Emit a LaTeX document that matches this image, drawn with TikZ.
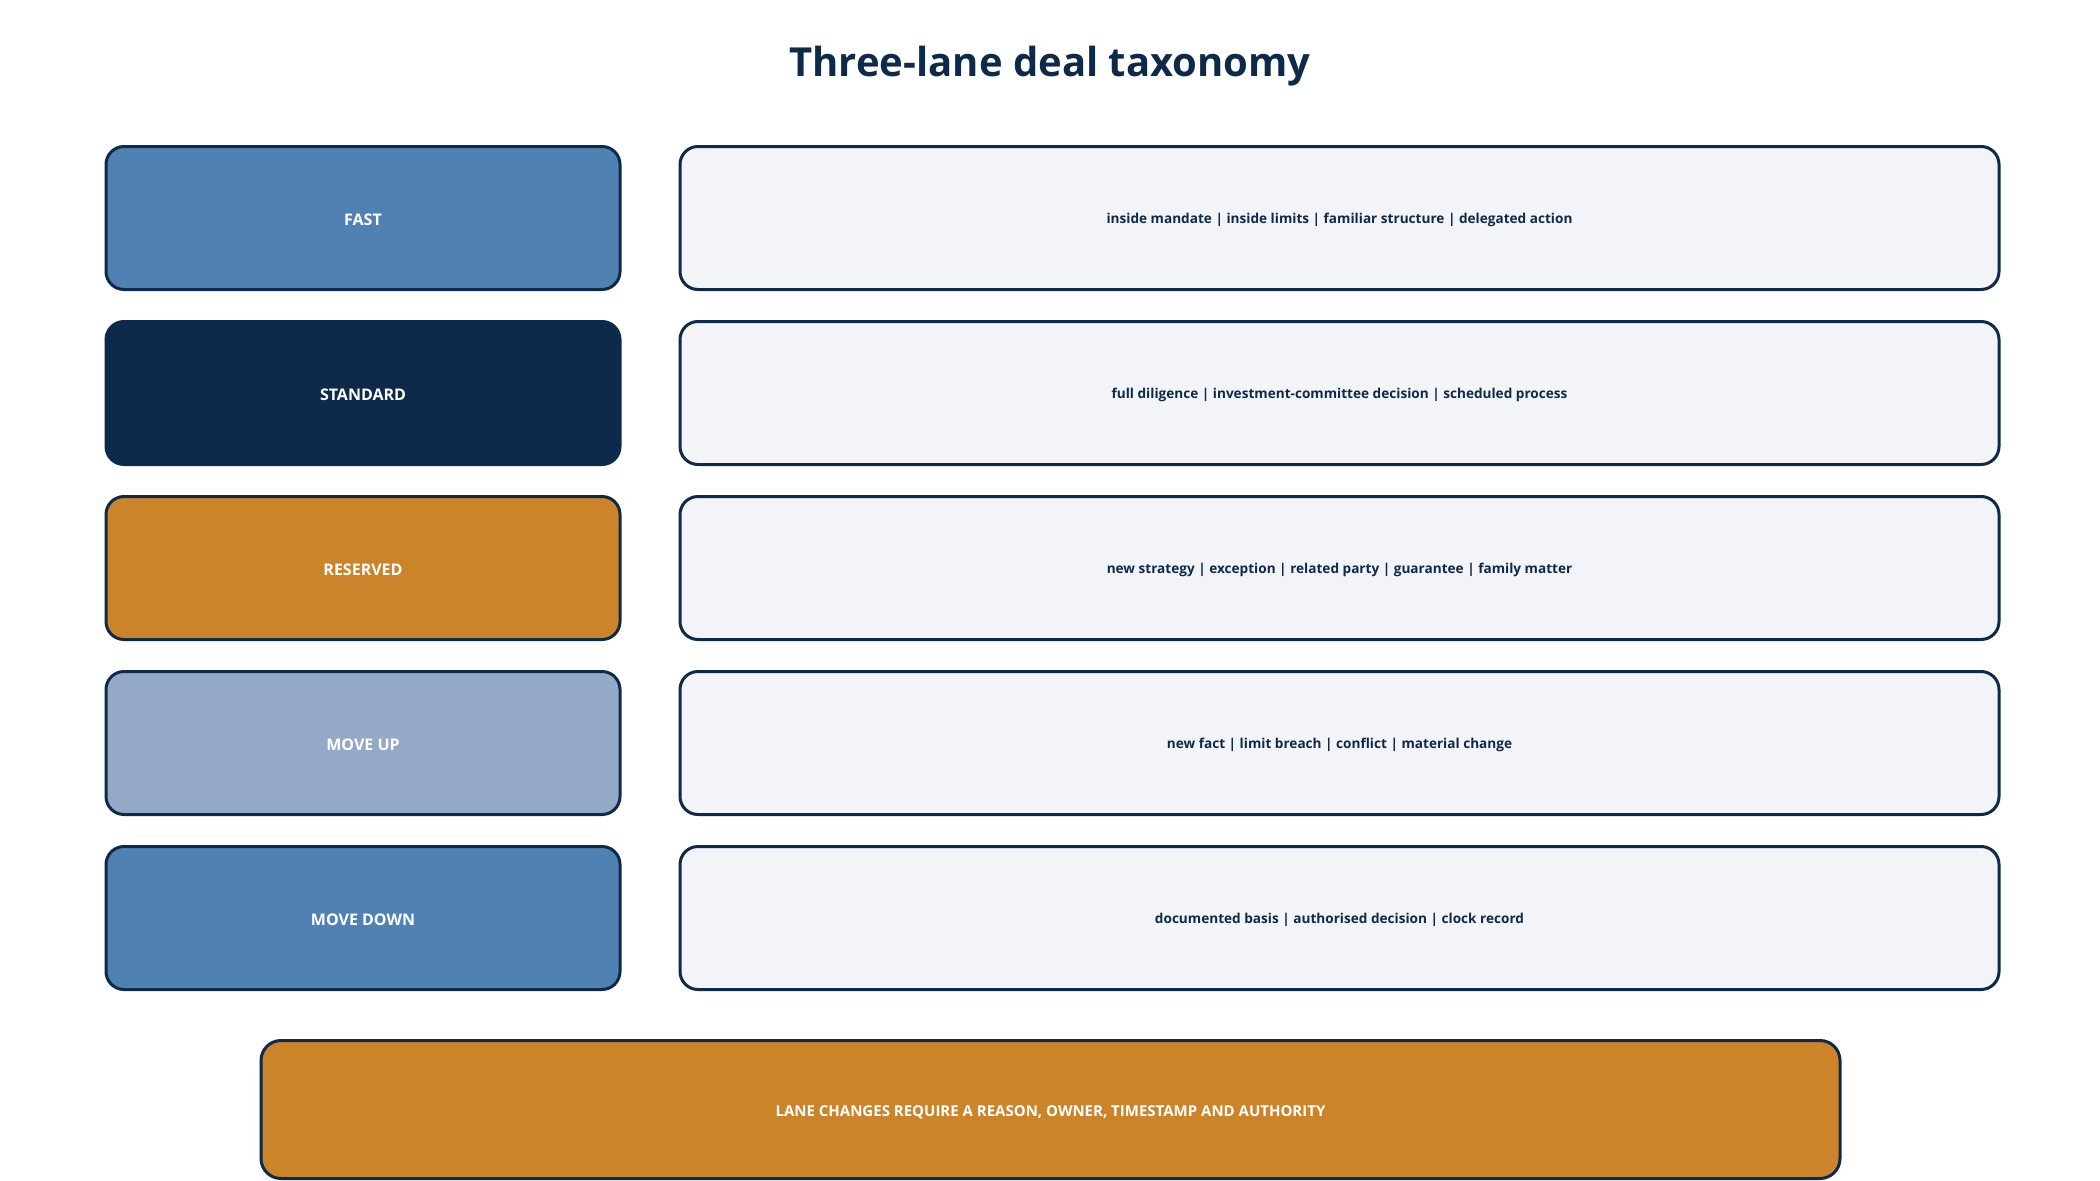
\documentclass[tikz,border=0pt]{standalone}
\usepackage{fontspec}
\setmainfont{Open Sans}
\definecolor{navy}{HTML}{0E2A4A}
\definecolor{steel}{HTML}{4F81B3}
\definecolor{amber}{HTML}{CB8429}
\definecolor{mist}{HTML}{94A9C6}
\definecolor{pale}{HTML}{F2F4F8}
\tikzset{
  lanebox/.style={draw=navy, line width=3pt, rounded corners=18pt, minimum width=514pt, minimum height=143pt, inner sep=0pt, text=white, text height=14pt, text depth=0pt, font=\bfseries\fontsize{16}{19}\selectfont},
  descbox/.style={draw=navy, line width=3pt, rounded corners=18pt, fill=pale, minimum width=1319pt, minimum height=143pt, inner sep=0pt, text=navy, text height=11.5pt, text depth=0pt, font=\bfseries\fontsize{13.6}{16}\selectfont},
  notebox/.style={draw=navy, line width=3pt, rounded corners=20pt, fill=amber, minimum width=1579pt, minimum height=138pt, inner sep=0pt, text=white, text height=14.5pt, text depth=0pt, font=\bfseries\fontsize{15}{18}\selectfont},
  titletext/.style={text=navy, font=\bfseries\fontsize{40}{48}\selectfont, inner sep=0pt}
}
\begin{document}
\begin{tikzpicture}[x=1pt,y=-1pt]
\useasboundingbox[fill=white] (0,0) rectangle (2100,1180);
\node[titletext] (title) at (1050,66) {Three-lane deal taxonomy};
\node[lanebox, fill=steel] (fast) at (363,218) {FAST};
\node[descbox] (fastd) at (1339.5,218) {inside mandate | inside limits | familiar structure | delegated action};
\node[lanebox, fill=navy] (std) at (363,393) {STANDARD};
\node[descbox] (stdd) at (1339.5,393) {full diligence | investment-committee decision | scheduled process};
\node[lanebox, fill=amber] (res) at (363,568) {RESERVED};
\node[descbox] (resd) at (1339.5,568) {new strategy | exception | related party | guarantee | family matter};
\node[lanebox, fill=mist] (up) at (363,743) {MOVE UP};
\node[descbox] (upd) at (1339.5,743) {new fact | limit breach | conflict | material change};
\node[lanebox, fill=steel] (down) at (363,918) {MOVE DOWN};
\node[descbox] (downd) at (1339.5,918) {documented basis | authorised decision | clock record};
\node[notebox] (note) at (1050.5,1109.5) {LANE CHANGES REQUIRE A REASON, OWNER, TIMESTAMP AND AUTHORITY};
\end{tikzpicture}
\end{document}
